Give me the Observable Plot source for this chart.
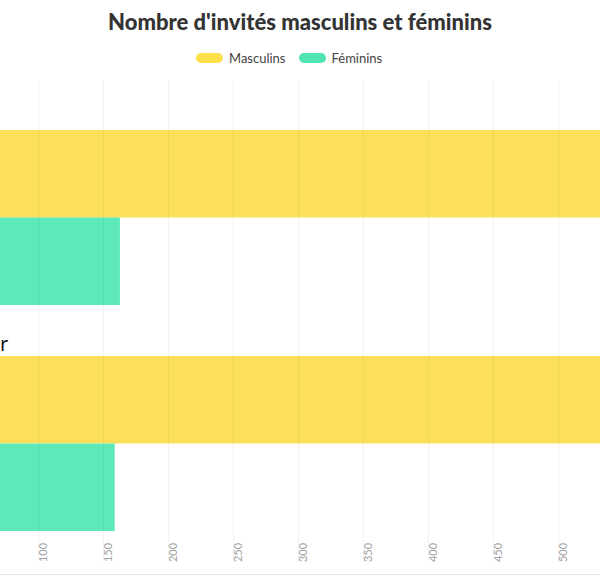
<!DOCTYPE html>
<html>
<head>
<meta charset="utf-8">
<script src="https://cdn.jsdelivr.net/npm/d3@7"></script>
<script src="https://cdn.jsdelivr.net/npm/@observablehq/plot@0.6"></script>
<style>
  html, body { margin: 0; padding: 0; background: #fff; overflow: hidden; }
  #wrap { position: relative; width: 600px; height: 575px; overflow: hidden; }
  #title { position: absolute; top: 8px; left: 0; width: 600px; text-align: center;
    font-family: Lato, "Noto Sans", sans-serif; font-weight: 900; font-size: 22px; line-height: 28px; color: #333; }
  #legend { position: absolute; top: 49px; left: 196px; height: 17px; display: flex; align-items: center;
    font-family: Lato, "Noto Sans", sans-serif; font-size: 13px; color: #444; }
  .item { display: flex; align-items: center; margin-right: 13px; }
  .sw { width: 27px; height: 10px; border-radius: 5px; margin-right: 6px; }
  #chart { position: absolute; top: 72px; left: 0; }
  #chart svg { overflow: hidden; border-bottom: 1px solid #e6e6e6; }
</style>
</head>
<body>
<div id="wrap">
  <div id="title"></div>
  <div id="legend"></div>
  <div id="chart"></div>
</div>
<script>
const title = "Nombre d'invités masculins et féminins";
const groups = ["Été", "Hiver"];
const series = ["Masculins", "Féminins"];
const masculins = [580, 575];
const feminins = [163, 159];
const colors = ["#FCE05A", "#5EE9B9"];
const legendColors = ["#FDE04A", "#50E4B2"];
const xTicks = [100, 150, 200, 250, 300, 350, 400, 450, 500];

document.getElementById("title").textContent = title;
const legend = document.getElementById("legend");
series.forEach((s, i) => {
  const it = document.createElement("div");
  it.className = "item";
  const sw = document.createElement("div");
  sw.className = "sw";
  sw.style.background = legendColors[i];
  const t = document.createElement("span");
  t.textContent = s;
  it.appendChild(sw); it.appendChild(t);
  legend.appendChild(it);
});

const mData = groups.map((g, i) => ({group: g, value: masculins[i]}));
const fData = groups.map((g, i) => ({group: g, value: feminins[i]}));

const half = 87.5;

const chart = Plot.plot({
  width: 600,
  height: 502,
  marginTop: 8,
  marginBottom: 12,
  marginLeft: 0,
  marginRight: 0,
  style: {fontFamily: "Lato, 'Noto Sans', sans-serif", background: "transparent"},
  x: {domain: [0, 550], range: [-92, 623], axis: null},
  y: {domain: groups, range: [58, 459], paddingInner: 51 / 226, paddingOuter: 0, round: false, axis: null},
  marks: [
    Plot.barX(mData, {y: "group", x1: 0, x2: "value", fill: colors[0], insetBottom: half, insetTop: 0}),
    Plot.barX(fData, {y: "group", x1: 0, x2: "value", fill: colors[1], insetTop: half, insetBottom: 0}),
    Plot.ruleX(xTicks, {x: d => d, stroke: "#000", strokeOpacity: 0.05, strokeWidth: 1}),
    Plot.text(xTicks, {x: d => d, text: d => String(d), frameAnchor: "bottom", rotate: -90,
      dx: 8, dy: -10, fill: "#a0a0a0", fontSize: 11, textAnchor: "middle"}),
    Plot.text(groups, {y: d => d, text: d => d, frameAnchor: "left", textAnchor: "start",
      dx: -42, dy: -99, fontSize: 20, fill: "#111", fontFamily: "'Noto Sans', sans-serif"})
  ]
});
document.getElementById("chart").appendChild(chart);
</script>
</body>
</html>
